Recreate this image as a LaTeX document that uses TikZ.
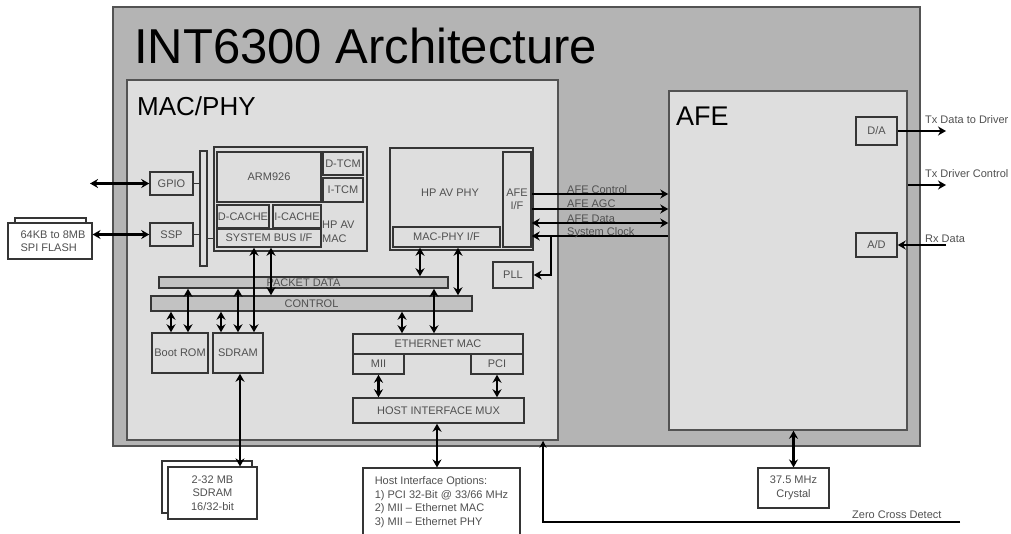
\documentclass[tikz,border=0pt]{standalone}
\usepackage{fontspec}
\setmainfont{Liberation Sans}
\usetikzlibrary{arrows.meta,positioning}
\definecolor{chipgray}{HTML}{B4B4B4}
\definecolor{panelgray}{HTML}{DEDEDE}
\definecolor{railgray}{HTML}{C2C2C2}
\definecolor{inkgray}{HTML}{505050}
\definecolor{edgegray}{HTML}{353535}
\newcommand*{\blk}[7][]{%
  \pgfmathsetmacro{\blkx}{(#3+#5)/2}\pgfmathsetmacro{\blky}{(#4+#6)/2}%
  \pgfmathsetmacro{\blkw}{#5-#3}\pgfmathsetmacro{\blkh}{#6-#4}%
  \node [block, minimum width=\blkw pt, minimum height=\blkh pt, #1] (#2) at (\blkx,\blky) {#7};
}

\begin{document}
\begin{tikzpicture}[x=1pt, y=-1pt,
    block/.style = {draw=edgegray, line width=1.5pt, inner sep=1pt, text=inkgray,
      font=\fontsize{11}{13.5}\selectfont, align=center},
    chip/.style  = {draw=edgegray!85, fill=chipgray, line width=1.5pt},
    panel/.style = {draw=edgegray!85, fill=panelgray, line width=1.5pt},
    rail/.style  = {fill=railgray, inner sep=0pt, text height=7.5pt, text depth=0pt},
    paper/.style = {fill=white, line width=1.1pt},
    dbl/.style   = {{Stealth[length=8pt,width=9pt]}-{Stealth[length=8pt,width=9pt]}, line width=2.6pt},
    sig/.style   = {-{Stealth[length=8pt,width=9pt]}, line width=2.6pt},
    note/.style  = {font=\fontsize{11}{14}\selectfont, text=inkgray, inner sep=0pt},
  ]
  \useasboundingbox (0,0) rectangle (1011,533);
  \blk[chip]{chipN}{113}{7}{920}{446}{}
  \blk[panel]{macphyN}{127}{80}{558}{440}{}
  \blk[panel]{afeN}{669}{91}{907}{430}{}
  \node [anchor=base west, inner sep=0pt, font=\fontsize{49}{50}\selectfont] (titleT) at (134,63) {INT6300 Architecture};
  \node [anchor=base west, inner sep=0pt, font=\fontsize{26}{28}\selectfont] (macphyT) at (137,115) {MAC/PHY};
  \node [anchor=base west, inner sep=0pt, font=\fontsize{27}{28}\selectfont] (afeT) at (676,125) {AFE};

  \blk{gpioN}{150}{172}{193}{195}{GPIO}
  \blk{sspN}{150}{223}{193}{246}{SSP}
  \blk[line width=1.2pt]{railN}{200}{151}{207}{266}{}
  \blk[line width=1.3pt]{hpavmacN}{214}{147}{367}{251}{}
  \blk{armN}{217}{152}{321}{202}{ARM926}
  \blk{dtcmN}{323}{152}{363}{175}{D-TCM}
  \blk{itcmN}{323}{178}{363}{202}{I-TCM}
  \blk[inner sep=0pt]{dcacheN}{217}{205}{269}{228}{D-CACHE}
  \blk[inner sep=0pt]{icacheN}{273}{205}{321}{228}{I-CACHE}
  \blk{sysbusN}{217}{229}{321}{247}{SYSTEM BUS I/F}
  \node [note, align=left, anchor=west] (hpavmacT) at (322,232) {HP AV\\MAC};
  \blk[line width=1.3pt]{hpavphyN}{390}{148}{533}{250}{}
  \node [note] (hpavphyT) at (450,193) {HP AV PHY};
  \blk{macphyifN}{393}{227}{500}{247}{MAC-PHY I/F}
  \blk{afeifN}{503}{152}{531}{247}{AFE\\I/F}
  \blk{pllN}{493}{262}{533}{288}{PLL}
  \blk[rail]{packetN}{159}{277}{448}{288}{PACKET DATA}
  \blk[rail]{controlN}{151}{296}{472}{311}{CONTROL}
  \blk{bootromN}{152}{333}{208}{373}{Boot ROM}
  \blk{sdramN}{213}{333}{263}{373}{SDRAM}
  \blk{ethmacN}{353}{334}{523}{354}{ETHERNET MAC}
  \blk{miiN}{353}{354}{404}{374}{MII}
  \blk{pciN}{471}{354}{523}{374}{PCI}
  \blk{hostmuxN}{353}{398}{524}{423}{HOST INTERFACE MUX}
  \blk{daN}{856}{117}{897}{145}{D/A}
  \blk{adN}{856}{233}{897}{257}{A/D}

  \blk[paper]{flashbackN}{15}{218}{86}{250}{}
  \blk[paper, align=left]{flashN}{8}{223}{92}{259}{\hspace*{6pt}64KB to 8MB\\\hspace*{6pt}SPI FLASH}
  \blk[paper]{extrambackN}{162}{461}{252}{513}{}
  \blk[paper]{extramN}{168}{467}{257}{519}{2-32 MB\\SDRAM\\16/32-bit}
  \blk[paper, align=left]{hostoptN}{363}{468}{520}{536}{Host Interface Options:\\1) PCI 32-Bit @ 33/66 MHz\\2) MII -- Ethernet MAC\\3) MII -- Ethernet PHY}
  \blk[paper]{crystalN}{758}{468}{829}{508}{37.5 MHz\\Crystal}

  \draw [line width=1pt, edgegray] (gpioN.east) -- (gpioN.east -| railN.west);
  \draw [line width=1pt, edgegray] (sspN.east) -- (sspN.east -| railN.west);
  \draw [line width=1pt, edgegray] (sysbusN.west -| railN.east) -- (sysbusN.west -| hpavmacN.west);

  \coordinate (gpioOutN) at (90,183.5);
  \draw [dbl] (gpioOutN) -- (gpioN.west);
  \draw [dbl] (flashN.east |- sspN.west) -- (sspN.west);

  \draw [dbl] (171,0 |- controlN.south) -- (171,0 |- bootromN.north);
  \draw [dbl] (188,0 |- packetN.south) -- (188,0 |- bootromN.north);
  \draw [dbl] (221,0 |- controlN.south) -- (221,0 |- sdramN.north);
  \draw [dbl] (238,0 |- packetN.south) -- (238,0 |- sdramN.north);
  \draw [dbl] (254,0 |- sysbusN.south) -- (254,0 |- sdramN.north);
  \draw [dbl] (271,0 |- sysbusN.south) -- (271,0 |- controlN.north);
  \draw [dbl] (420,0 |- macphyifN.south) -- (420,0 |- packetN.north);
  \draw [dbl] (458,0 |- macphyifN.south) -- (458,0 |- controlN.north);
  \draw [dbl] (402,0 |- controlN.south) -- (402,0 |- ethmacN.north);
  \draw [dbl] (434,0 |- packetN.south) -- (434,0 |- ethmacN.north);
  \draw [dbl] (miiN.south) -- (miiN.south |- hostmuxN.north);
  \draw [dbl] (pciN.south) -- (pciN.south |- hostmuxN.north);
  \draw [dbl] (437,0 |- hostmuxN.south) -- (437,0 |- hostoptN.north);
  \draw [dbl] (240,0 |- sdramN.south) -- (240,0 |- extramN.north);
  \draw [dbl] (afeN.south -| crystalN.north) -- (crystalN.north);

  \draw [sig] (afeifN.east |- 0,194) -- (afeN.west |- 0,194);
  \draw [sig] (afeifN.east |- 0,209) -- (afeN.west |- 0,209);
  \draw [dbl] (afeifN.east |- 0,223) -- (afeN.west |- 0,223);
  \draw [sig] (afeN.west |- 0,236) -- (afeifN.east |- 0,236);
  \coordinate (clkTapN) at (551,236);
  \draw [sig] (clkTapN) |- (pllN.east);
  \node [note, anchor=base west] (afectlT) at (567,193) {AFE Control};
  \node [note, anchor=base west] (afeagcT) at (567,207) {AFE AGC};
  \node [note, anchor=base west] (afedataT) at (567,222) {AFE Data};
  \node [note, anchor=base west] (sysclkT) at (567,235) {System Clock};

  \draw [sig] (daN.east) -- (946,0 |- daN.east);
  \draw [sig] (afeN.east |- 0,185) -- (946,185);
  \draw [sig, line width=1.6pt] (946,0 |- adN.east) -- (adN.east);
  \node [note, anchor=base west] (txdataT) at (925,123) {Tx Data to Driver};
  \node [note, anchor=base west] (txctlT) at (925,177) {Tx Driver Control};
  \node [note, anchor=base west] (rxdataT) at (925,242) {Rx Data};

  \coordinate (zcdN) at (960,522);
  \draw [-{Stealth[length=7pt,width=7pt]}, line width=1.8pt] (zcdN) -| (543,0 |- macphyN.south);
  \node [note, anchor=base west] (zcdT) at (852,518) {Zero Cross Detect};
\end{tikzpicture}
\end{document}
